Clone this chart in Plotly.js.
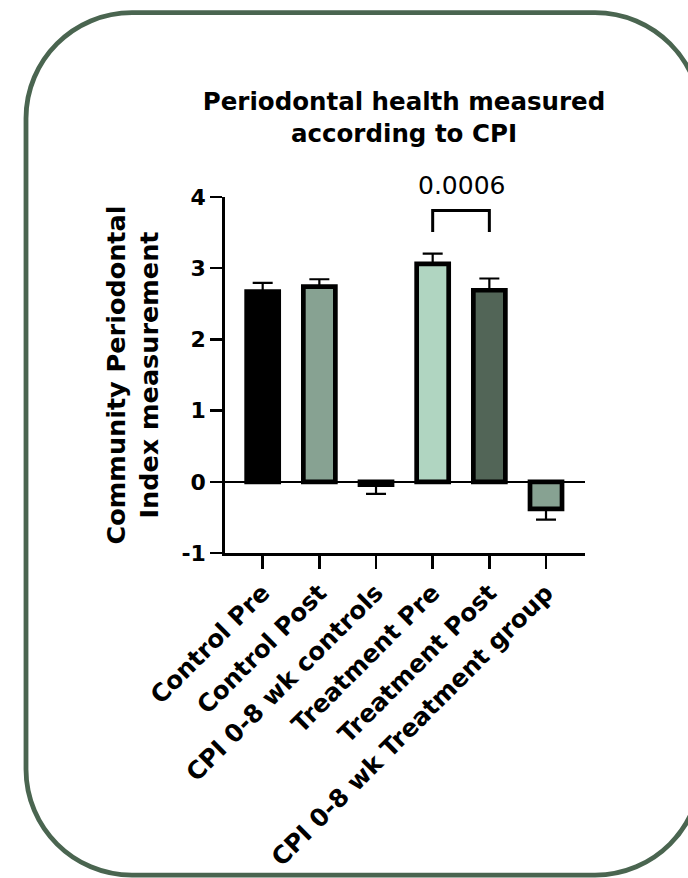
<!DOCTYPE html>
<html>
<head>
<meta charset="utf-8">
<script src="https://cdn.plot.ly/plotly-3.0.1.min.js"></script>
<style>
  html, body { margin: 0; padding: 0; background: #ffffff; }
  #chart { width: 688px; height: 878px; }
</style>
</head>
<body>
<div id="chart"></div>
<script>
// ---- data ----
const categories = [
  'Control Pre',
  'Control Post',
  'CPI 0-8 wk controls',
  'Treatment Pre',
  'Treatment Post',
  'CPI 0-8 wk Treatment group'
];
const means = [2.67, 2.74, -0.04, 3.06, 2.69, -0.38];
const semUp = [0.125, 0.105, 0, 0.145, 0.165, 0];
const semDown = [0, 0, 0.13, 0, 0, 0.15];
const yTickValues = [-1, 0, 1, 2, 3, 4];
const yTickLabels = ['-1', '0', '1', '2', '3', '4'];
const pLabel = '0.0006';
const compareIdx = [3, 4];

// ---- styles ----
const barFills = ['#000000', '#87a292', '#87a292', '#b0d5c1', '#526557', '#87a292'];
const frameColor = '#4a6550';
const FONT = 'DejaVu Sans';

// ---- geometry (pixels) ----
const W = 688, H = 878;
const M = { l: 225, r: 103, t: 196.5, b: 325.3 };
const pw = W - M.l - M.r, ph = H - M.t - M.b;
const px2x = p => (p - M.l) / pw;
const py2y = p => (H - M.b - p) / ph;

// rounded frame path in paper coordinates
function framePath(x0, y0, x1, y1, r) {
  const k = 0.5523 * r;
  const P = (x, y) => px2x(x).toFixed(5) + ',' + py2y(y).toFixed(5);
  return 'M' + P(x0 + r, y0) +
    ' L' + P(x1 - r, y0) +
    ' C' + P(x1 - r + k, y0) + ' ' + P(x1, y0 + r - k) + ' ' + P(x1, y0 + r) +
    ' L' + P(x1, y1 - r) +
    ' C' + P(x1, y1 - r + k) + ' ' + P(x1 - r + k, y1) + ' ' + P(x1 - r, y1) +
    ' L' + P(x0 + r, y1) +
    ' C' + P(x0 + r - k, y1) + ' ' + P(x0, y1 - r + k) + ' ' + P(x0, y1 - r) +
    ' L' + P(x0, y0 + r) +
    ' C' + P(x0, y0 + r - k) + ' ' + P(x0 + r - k, y0) + ' ' + P(x0 + r, y0) + ' Z';
}

const bracketLow = 3.51, bracketHigh = 3.81;
const labelPaperY = py2y(185);

const trace = {
  type: 'bar',
  x: categories,
  y: means,
  marker: { color: barFills, line: { color: '#000000', width: 4.7 } },
  error_y: {
    type: 'data', symmetric: false,
    array: semUp, arrayminus: semDown,
    color: '#000000', thickness: 2.2, width: 10
  },
  hoverinfo: 'x+y',
  cliponaxis: false
};

const layout = {
  width: W, height: H,
  margin: M,
  paper_bgcolor: '#ffffff',
  plot_bgcolor: 'rgba(0,0,0,0)',
  showlegend: false,
  bargap: 0.435,
  title: {
    text: 'Periodontal health measured<br>according to CPI',
    font: { family: FONT, size: 24.5, weight: 'bold', color: '#000000' },
    x: 404 / W, xref: 'container', xanchor: 'center',
    y: 1 - 110 / H, yref: 'container', yanchor: 'middle'
  },
  xaxis: {
    type: 'category',
    range: [-0.665, 5.688],
    showline: true, linecolor: '#000000', linewidth: 2.7,
    ticks: 'outside', ticklen: 13, tickwidth: 2.5, tickcolor: '#000000',
    tickangle: -45,
    tickfont: { family: FONT, size: 24.5, weight: 'bold', color: '#000000' },
    showgrid: false, zeroline: false, fixedrange: true
  },
  yaxis: {
    range: [-1, 4],
    tickmode: 'array',
    tickvals: yTickValues,
    ticktext: yTickLabels,
    showline: true, linecolor: '#000000', linewidth: 2.7,
    ticks: 'outside', ticklen: 12, tickwidth: 2.5, tickcolor: '#000000',
    tickfont: { family: FONT, size: 22, weight: 'bold', color: '#000000' },
    showgrid: false,
    zeroline: true, zerolinecolor: '#000000', zerolinewidth: 2.5,
    title: {
      text: 'Community Periodontal<br>Index measurement',
      font: { family: FONT, size: 25.5, weight: 'bold', color: '#000000' },
      standoff: 16
    },
    fixedrange: true
  },
  shapes: [
    {
      type: 'path', xref: 'paper', yref: 'paper', layer: 'below',
      path: framePath(26, 12, 701, 875, 106),
      line: { color: frameColor, width: 4.8 }, fillcolor: 'rgba(0,0,0,0)'
    },
    {
      type: 'path', xref: 'x', yref: 'y', layer: 'above',
      path: 'M' + compareIdx[0] + ',' + bracketLow +
            ' L' + compareIdx[0] + ',' + bracketHigh +
            ' L' + compareIdx[1] + ',' + bracketHigh +
            ' L' + compareIdx[1] + ',' + bracketLow,
      line: { color: '#000000', width: 3 }
    }
  ],
  annotations: [
    {
      xref: 'x', yref: 'paper',
      x: (compareIdx[0] + compareIdx[1]) / 2, y: labelPaperY,
      text: pLabel, showarrow: false,
      font: { family: FONT, size: 25, color: '#000000' },
      xanchor: 'center', yanchor: 'middle'
    }
  ]
};

Plotly.newPlot('chart', [trace], layout, { displayModeBar: false, staticPlot: true });
</script>
</body>
</html>
